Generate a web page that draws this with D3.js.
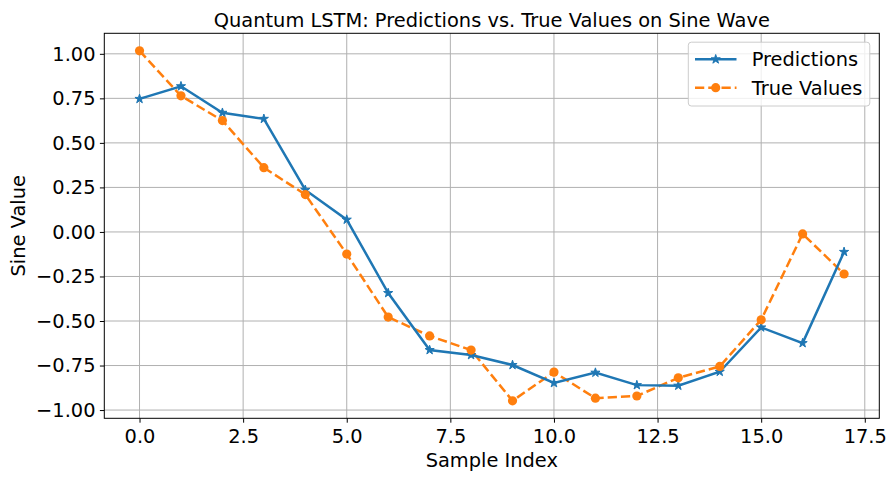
<!DOCTYPE html>
<html><head><meta charset="utf-8">
<script src="https://cdn.jsdelivr.net/npm/d3@7"></script>
<style>body{margin:0;background:#fff}svg{display:block;font-family:"DejaVu Sans",sans-serif}</style>
</head><body><svg id="c" width="896" height="481"></svg>
<script>
const sampleIndex = [0,1,2,3,4,5,6,7,8,9,10,11,12,13,14,15,16,17];
const predictions = [0.747,0.818,0.669,0.635,0.236,0.069,-0.343,-0.663,-0.691,-0.747,-0.848,-0.790,-0.860,-0.863,-0.785,-0.536,-0.624,-0.112];
const trueValues = [1.017,0.764,0.625,0.361,0.210,-0.124,-0.478,-0.584,-0.663,-0.948,-0.787,-0.933,-0.921,-0.819,-0.755,-0.493,-0.011,-0.236];
const xTicks = [0,2.5,5,7.5,10,12.5,15,17.5];
const yTicks = [-1,-0.75,-0.5,-0.25,0,0.25,0.5,0.75,1];
const seriesNames = ["Predictions","True Values"];
const colors = ["#1f77b4","#ff7f0e"];

const svg = d3.select("#c");
const L=104.3, R=879.3, T=33.3, B=418.3;
const x = d3.scaleLinear().domain([-0.85,17.85]).range([L,R]);
const yMin = Math.min(d3.min(predictions), d3.min(trueValues));
const yMax = Math.max(d3.max(predictions), d3.max(trueValues));
const pad = (yMax-yMin)*0.05;
const y = d3.scaleLinear().domain([yMin-pad, yMax+pad]).range([B,T]);
const fs = 19.4;

// grid
const g = svg.append("g");
g.selectAll(".gx").data(xTicks).join("line").attr("x1",d=>x(d)).attr("x2",d=>x(d)).attr("y1",T).attr("y2",B).attr("stroke","#b0b0b0").attr("stroke-width",1);
g.selectAll(".gy").data(yTicks).join("line").attr("y1",d=>y(d)).attr("y2",d=>y(d)).attr("x1",L).attr("x2",R).attr("stroke","#b0b0b0").attr("stroke-width",1);

// axes
const fmtX = d=>d3.format(".1f")(d);
const fmtY = d=>d3.format(".2f")(d).replace("-","\u2212");
const xAxis = svg.append("g").attr("transform",`translate(0,${B})`).call(d3.axisBottom(x).tickValues(xTicks).tickFormat(fmtX).tickSize(4.4).tickPadding(4.4));
const yAxis = svg.append("g").attr("transform",`translate(${L},0)`).call(d3.axisLeft(y).tickValues(yTicks).tickFormat(fmtY).tickSize(4.4).tickPadding(4.4));
[xAxis,yAxis].forEach(a=>{a.select(".domain").remove();a.selectAll("text").attr("font-size",fs).attr("font-family","DejaVu Sans").attr("fill","#000");a.selectAll("line").attr("stroke","#000").attr("stroke-width",1);});
xAxis.selectAll("text").attr("dy",null).attr("y",null).attr("transform","translate(0,24.4)");

// lines
const line = d3.line().x((d,i)=>x(sampleIndex[i])).y(d=>y(d));
svg.append("path").datum(trueValues).attr("d",line).attr("fill","none").attr("stroke",colors[1]).attr("stroke-width",2.5).attr("stroke-dasharray","9.25,4");
svg.append("path").datum(predictions).attr("d",line).attr("fill","none").attr("stroke",colors[0]).attr("stroke-width",2.5);
const star = d3.symbol().type(d3.symbolStar).size(26);
svg.append("g").selectAll("path").data(predictions).join("path").attr("d",star).attr("transform",(d,i)=>`translate(${x(sampleIndex[i])},${y(d)})`).attr("fill",colors[0]).attr("stroke",colors[0]).attr("stroke-width",1);
svg.append("g").selectAll("circle").data(trueValues).join("circle").attr("cx",(d,i)=>x(sampleIndex[i])).attr("cy",d=>y(d)).attr("r",4.6).attr("fill",colors[1]);

// frame
svg.append("rect").attr("x",L).attr("y",T).attr("width",R-L).attr("height",B-T).attr("fill","none").attr("stroke","#000").attr("stroke-width",1);

// title and labels
svg.append("text").attr("x",(L+R)/2).attr("y",26.5).attr("text-anchor","middle").attr("font-size",fs).text("Quantum LSTM: Predictions vs. True Values on Sine Wave");
svg.append("text").attr("x",(L+R)/2).attr("y",467.3).attr("text-anchor","middle").attr("font-size",fs).text("Sample Index");
svg.append("text").attr("transform",`translate(25,${(T+B)/2}) rotate(-90)`).attr("text-anchor","middle").attr("font-size",fs).text("Sine Value");

// legend
const lg = svg.append("g");
lg.append("rect").attr("x",688.3).attr("y",42.2).attr("width",181.5).attr("height",63.8).attr("rx",3).attr("fill","#fff").attr("fill-opacity",0.8).attr("stroke","#ccc").attr("stroke-width",1);
seriesNames.forEach((n,i)=>{
  const yy = 59.3 + i*28.4;
  lg.append("line").attr("x1",695).attr("x2",736.5).attr("y1",yy).attr("y2",yy).attr("stroke",colors[i]).attr("stroke-width",2.5).attr("stroke-dasharray",i? "9.25,4":null);
  if(i==0) lg.append("path").attr("d",star).attr("transform",`translate(715.7,${yy})`).attr("fill",colors[0]).attr("stroke",colors[0]);
  else lg.append("circle").attr("cx",715.7).attr("cy",yy).attr("r",4.6).attr("fill",colors[1]);
  lg.append("text").attr("x",751.7).attr("y",yy+6.8).attr("font-size",fs).text(n);
});
</script></body></html>
